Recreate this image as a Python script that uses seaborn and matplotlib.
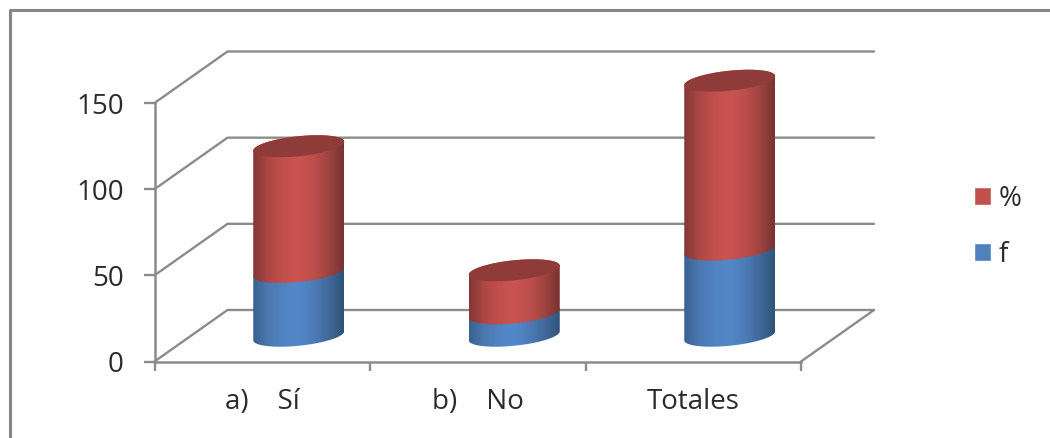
import numpy as np
import pandas as pd
import matplotlib
matplotlib.use("Agg")
import matplotlib.pyplot as plt
import seaborn as sns
from matplotlib.colors import LinearSegmentedColormap
from matplotlib.lines import Line2D
from matplotlib.patches import Patch, PathPatch, Polygon
from matplotlib.path import Path

# Survey counts and percentages
categories = ["a)    Sí", "b)    No", "Totales"]
f_values = [37, 13, 50]
pct_values = [73, 25, 98]
y_ticks = [0, 50, 100, 150]

W, H = 1050, 438
GRID = "#8b8b8b"
TEXT = "#2b2b2b"
BLUE = ["#38618f", "#4a78b0", "#5083c2", "#5288cb", "#4c7cb6", "#42699a", "#2f5379"]
RED = ["#823735", "#ad4744", "#c24f4c", "#cb5451", "#bd4e4b", "#a04441", "#773331"]
TOP_RED = "#8f3b39"

sns.set_theme(style="white")
plt.rcParams["font.family"] = ["Open Sans", "DejaVu Sans"]
plt.rcParams["axes.unicode_minus"] = False

frame = pd.DataFrame({"cat": categories, "f": f_values, "pct": pct_values})


def pixel_box(x0, x1, y_top, y_bottom):
    return [x0 / W, 1 - y_bottom / H, (x1 - x0) / W, (y_bottom - y_top) / H]


fig = plt.figure(figsize=(W / 100, H / 100), dpi=100, facecolor="white")

# Outer frame: only its left and top edges fall inside the canvas
fig.add_artist(Line2D([10 / W, 10 / W, 1], [0, 1 - 10 / H, 1 - 10 / H],
                      color="#868686", lw=2.2, transform=fig.transFigure))

X0, X1, Y150, Y0 = 154.5, 801, 103, 361.5
DEPTH_PX = (73, 51.5)
ax = fig.add_axes(pixel_box(X0, X1, Y150, Y0))
ax.set_xlim(-0.5, 2.5)
ax.set_ylim(0, 150)
ax.patch.set_alpha(0)

px_x = 3 / (X1 - X0)
px_y = 150 / (Y0 - Y150)
dx, dy = DEPTH_PX[0] * px_x, DEPTH_PX[1] * px_y

# Back wall gridlines and their side-wall diagonals
for v in y_ticks:
    ax.plot([-0.5, -0.5 + dx, 2.5 + dx], [v, v + dy, v + dy], color=GRID,
            lw=1.7, clip_on=False, zorder=1, solid_joinstyle="miter")
ax.plot([2.5, 2.5 + dx], [0, dy], color=GRID, lw=1.7, clip_on=False, zorder=1)

sns.despine(ax=ax, top=True, right=True)
for side in ("left", "bottom"):
    ax.spines[side].set_color(GRID)
    ax.spines[side].set_linewidth(1.8)
ax.set_xticks([0, 1, 2], categories)
ax.set_xticks([-0.5, 0.5, 1.5, 2.5], minor=True)
ax.set_yticks(y_ticks)
ax.tick_params(axis="x", which="major", length=0, labelsize=20, pad=19,
               labelcolor=TEXT)
ax.tick_params(axis="x", which="minor", length=6.5, width=1.7, color=GRID,
               bottom=True)
ax.tick_params(axis="y", length=8, width=1.7, color=GRID, left=True,
               labelsize=20, pad=14, labelcolor=TEXT)

# Cylinders stand on the middle of the floor, so their axes is shifted by half
# the depth; extra room above and below keeps the rims inside it
Y_LOW, Y_HIGH = -20, 190
cyl = fig.add_axes(pixel_box(X0 + DEPTH_PX[0] / 2, X1 + DEPTH_PX[0] / 2,
                             Y0 - DEPTH_PX[1] / 2 - Y_HIGH / px_y,
                             Y0 - DEPTH_PX[1] / 2 - Y_LOW / px_y),
                   zorder=ax.get_zorder() + 1)
cyl.patch.set_alpha(0)

BAR_WIDTH = 91 / ((X1 - X0) / 3)
sns.barplot(data=frame, x="cat", y="f", color=BLUE[3], width=BAR_WIDTH,
            saturation=1, ax=cyl, zorder=2)
blue_bars = list(cyl.patches)
sns.barplot(data=frame, x="cat", y="pct", bottom=f_values, color=RED[3],
            width=BAR_WIDTH, saturation=1, ax=cyl, zorder=2)
red_bars = [p for p in cyl.patches if p not in blue_bars]

SKEW = 4.5 * px_y  # the rim rises towards the right
MINOR = 10 * px_y  # half-height of the rim


def rim(cx, half, base, start, stop, n=60):
    t = np.linspace(start, stop, n)
    # y grows upward, so the front of the rim is the sin < 0 half
    return np.column_stack([cx + half * np.cos(t),
                            base + SKEW * np.cos(t) + MINOR * np.sin(t)])


def shade(bar, colours, order):
    x, w = bar.get_x(), bar.get_width()
    low, high = bar.get_y(), bar.get_y() + bar.get_height()
    cx, half = x + w / 2, w / 2
    lower = rim(cx, half, low, np.pi, 2 * np.pi)
    upper = rim(cx, half, high, 0, np.pi)
    outline = np.vstack([lower, upper, lower[:1]])
    body = PathPatch(Path(outline), transform=cyl.transData, fc="none", ec="none")
    cyl.add_patch(body)
    cmap = LinearSegmentedColormap.from_list("side", colours)
    img = cyl.imshow(np.linspace(0, 1, 256)[None, :], cmap=cmap, aspect="auto",
                     extent=(x, x + w, low - 15, high + 15), zorder=order,
                     interpolation="bilinear")
    img.set_clip_path(body)
    # The flat-ended bar sits under the shaded body and must not poke past it
    bar.set_visible(False)
    return cx, half, high


for bar in blue_bars:
    shade(bar, BLUE, 3)
for bar in red_bars:
    cx, half, high = shade(bar, RED, 4)
    cyl.add_patch(Polygon(rim(cx, half, high, 0, 2 * np.pi), closed=True,
                          fc=TOP_RED, ec="none", zorder=5))

cyl.set_xlim(-0.5, 2.5)
cyl.set_ylim(Y_LOW, Y_HIGH)
cyl.set_axis_off()

# Legend lists the upper series first
handles = [Patch(fc="#c0504d", label="%"), Patch(fc="#4f81bd", label="f")]
fig.legend(handles=handles, loc="center left", frameon=False, fontsize=20,
           bbox_to_anchor=(968 / W, 1 - 227 / H), handlelength=0.62,
           handleheight=0.62, handletextpad=0.28, labelspacing=1.0,
           labelcolor=TEXT, borderpad=0.2, borderaxespad=0)

fig.savefig("out.png", dpi=100)
